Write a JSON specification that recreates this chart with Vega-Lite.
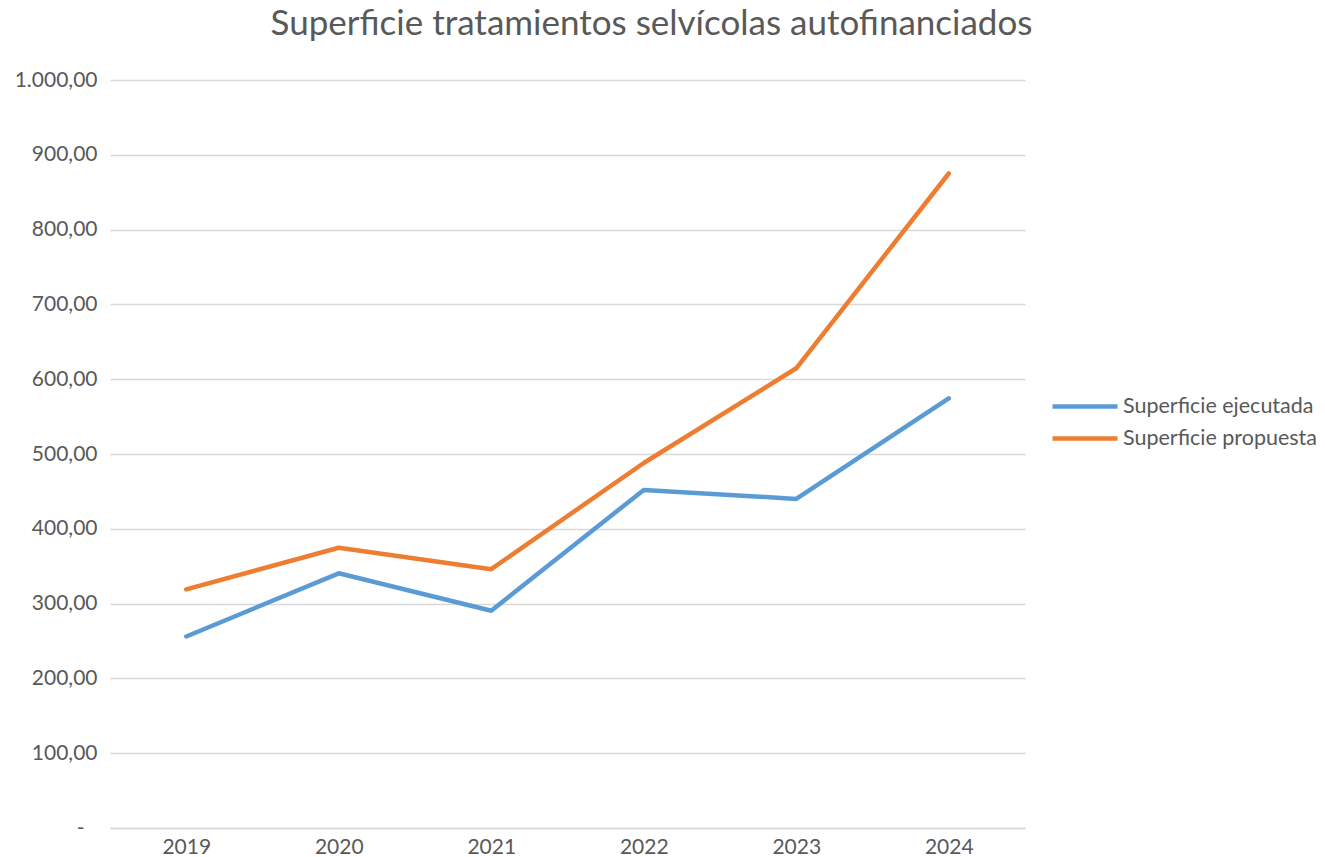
{
  "$schema": "https://vega.github.io/schema/vega-lite/v6.json",
  "width": 915,
  "height": 748,
  "autosize": {"type": "none"},
  "padding": {"left": 110, "top": 80, "right": 300, "bottom": 29},
  "background": "white",
  "config": {
    "locale": {"number": {"decimal": ",", "thousands": ".", "grouping": [3], "currency": ["", "€"]}},
    "view": {"stroke": null},
    "font": "Lato"
  },
  "title": {
    "text": "Superficie tratamientos selvícolas autofinanciados",
    "fontSize": 35,
    "font": "Lato",
    "fontWeight": "normal",
    "color": "#595959",
    "anchor": "middle",
    "dx": 84,
    "offset": 27
  },
  "data": {
    "values": [
      {"year": "2019", "serie": "Superficie ejecutada", "value": 256},
      {"year": "2020", "serie": "Superficie ejecutada", "value": 340.5},
      {"year": "2021", "serie": "Superficie ejecutada", "value": 290.5},
      {"year": "2022", "serie": "Superficie ejecutada", "value": 452},
      {"year": "2023", "serie": "Superficie ejecutada", "value": 440},
      {"year": "2024", "serie": "Superficie ejecutada", "value": 574.5},
      {"year": "2019", "serie": "Superficie propuesta", "value": 319},
      {"year": "2020", "serie": "Superficie propuesta", "value": 374.7},
      {"year": "2021", "serie": "Superficie propuesta", "value": 346},
      {"year": "2022", "serie": "Superficie propuesta", "value": 488},
      {"year": "2023", "serie": "Superficie propuesta", "value": 614.6},
      {"year": "2024", "serie": "Superficie propuesta", "value": 875}
    ]
  },
  "mark": {"type": "line", "strokeWidth": 4.5, "strokeCap": "round", "strokeJoin": "round"},
  "encoding": {
    "x": {
      "field": "year",
      "type": "ordinal",
      "scale": {"type": "point", "padding": 0.5},
      "axis": {
        "title": null,
        "labelAngle": 0,
        "labelFontSize": 21,
        "labelColor": "#595959",
        "domainColor": "#d9d9d9",
        "domainWidth": 1.5,
        "ticks": false,
        "labelPadding": 8,
        "grid": false
      }
    },
    "y": {
      "field": "value",
      "type": "quantitative",
      "scale": {"domain": [0, 1000], "nice": false},
      "axis": {
        "title": null,
        "values": [0, 100, 200, 300, 400, 500, 600, 700, 800, 900, 1000],
        "labelExpr": "datum.value == 0 ? '-' : format(datum.value, ',.2f')",
        "domain": false,
        "ticks": false,
        "grid": true,
        "gridColor": "#d9d9d9",
        "gridWidth": 1.5,
        "labelFontSize": 21,
        "labelColor": "#595959",
        "labelPadding": {"condition": {"test": "datum.value == 0", "value": 26}, "value": 13}
      }
    },
    "color": {
      "field": "serie",
      "type": "nominal",
      "scale": {"domain": ["Superficie ejecutada", "Superficie propuesta"], "range": ["#5B9BD5", "#ED7D31"]},
      "legend": {
        "title": null,
        "orient": "none",
        "legendX": 940,
        "legendY": 316,
        "symbolType": "stroke",
        "symbolSize": 4225,
        "symbolStrokeWidth": 4.5,
        "clipHeight": 21,
        "labelFontSize": 21.5,
        "labelColor": "#595959",
        "labelOffset": 3,
        "labelLimit": 400,
        "rowPadding": 10
      }
    }
  }
}
